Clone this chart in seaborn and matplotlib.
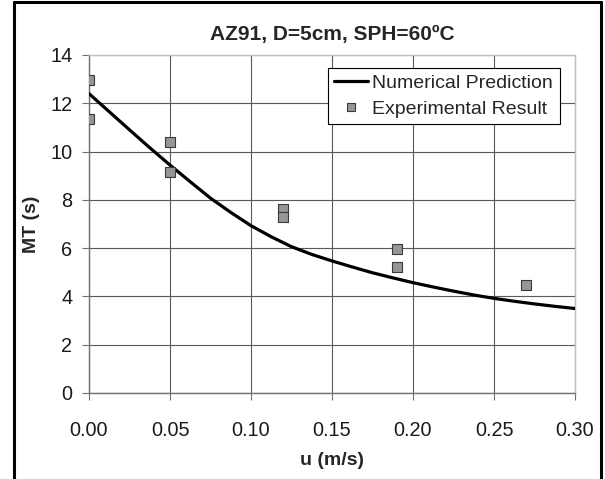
import matplotlib
matplotlib.use('Agg')
import matplotlib.pyplot as plt
from matplotlib.lines import Line2D
import seaborn as sns
import pandas as pd

# ── Data ──────────────────────────────────────────────────────
u_model = [0.0, 0.0125, 0.025, 0.0375, 0.05, 0.0625, 0.075, 0.0875, 0.10, 0.1125,
           0.125, 0.1375, 0.15, 0.1625, 0.175, 0.1875, 0.20, 0.2125, 0.225, 0.2375,
           0.25, 0.2625, 0.275, 0.2875, 0.30]
mt_model = [12.4, 11.65, 10.9, 10.16, 9.44, 8.75, 8.07, 7.48, 6.93, 6.47,
            6.06, 5.74, 5.47, 5.22, 4.98, 4.77, 4.57, 4.39, 4.22, 4.06,
            3.92, 3.8, 3.69, 3.59, 3.5]

u_exp = [0.0, 0.0, 0.05, 0.05, 0.12, 0.12, 0.19, 0.19, 0.27]
mt_exp = [12.98, 11.35, 10.41, 9.17, 7.63, 7.31, 5.95, 5.23, 4.49]

x_ticks = [0.0, 0.05, 0.10, 0.15, 0.20, 0.25, 0.30]
y_ticks = [0, 2, 4, 6, 8, 10, 12, 14]

model = pd.DataFrame({'u': u_model, 'MT': mt_model})
exp = pd.DataFrame({'u': u_exp, 'MT': mt_exp})

sns.set_style('white')
plt.rcParams['font.family'] = ['Liberation Sans', 'DejaVu Sans']

fig = plt.figure(figsize=(6.05, 4.79), dpi=100)
ax = fig.add_axes([89 / 605, 1 - 393 / 479, 486 / 605, 338 / 479])

sns.lineplot(data=model, x='u', y='MT', ax=ax, color='black', linewidth=2.3,
             label='Numerical Prediction', zorder=3)
sns.scatterplot(data=exp, x='u', y='MT', ax=ax, marker='s', s=42, color='#969696',
                edgecolor='#3a3a3a', linewidth=0.8, label='Experimental Result', zorder=4)

ax.set_xlim(0, 0.30)
ax.set_ylim(0, 14)
ax.set_xticks(x_ticks)
ax.set_yticks(y_ticks)
ax.set_xticklabels([f'{t:.2f}' for t in x_ticks])

ax.grid(True, color='#5a5a5a', linewidth=0.8)
ax.set_axisbelow(True)
for side in ['top', 'right']:
    ax.spines[side].set_color('#c0c0c0')
    ax.spines[side].set_linewidth(1.0)
for side in ['left', 'bottom']:
    ax.spines[side].set_color('#707070')
    ax.spines[side].set_linewidth(1.0)

ax.tick_params(axis='both', which='major', direction='out', length=5, width=0.8,
               color='#707070', labelsize=14.3, labelcolor='#1a1a1a')
ax.tick_params(axis='x', pad=15, bottom=True)
ax.tick_params(axis='y', pad=7, left=True)

ax.set_xlabel('u (m/s)', fontsize=14, fontweight='bold', labelpad=9)
ax.set_ylabel('MT (s)', fontsize=14, fontweight='bold', labelpad=7)
ax.set_title('AZ91, D=5cm, SPH=60ºC', fontsize=15, fontweight='bold', pad=11)

handles = [Line2D([0], [0], color='black', linewidth=2.3),
           Line2D([0], [0], marker='s', linestyle='none', markersize=5.5,
                  markerfacecolor='#969696', markeredgecolor='#3a3a3a', markeredgewidth=0.8)]
leg = ax.legend(handles, ['Numerical Prediction', 'Experimental Result'],
                loc='upper right', bbox_to_anchor=(0.969, 0.962), fontsize=14,
                frameon=True, fancybox=False, framealpha=1, edgecolor='black',
                borderpad=0.35, handlelength=1.7, handletextpad=0.25, labelspacing=0.4,
                borderaxespad=0)
leg.get_frame().set_linewidth(0.8)

# black border round the chart area (left, top, right)
fig.add_artist(Line2D([13.5 / 605, 13.5 / 605], [0, 1 - 1.5 / 479], color='black',
                      linewidth=2.2, transform=fig.transFigure))
fig.add_artist(Line2D([13.5 / 605, 600.5 / 605], [1 - 1.5 / 479, 1 - 1.5 / 479], color='black',
                      linewidth=2.2, transform=fig.transFigure))
fig.add_artist(Line2D([600.5 / 605, 600.5 / 605], [0, 1 - 1.5 / 479], color='black',
                      linewidth=2.2, transform=fig.transFigure))

fig.savefig('out.png', dpi=100)
plt.close(fig)
